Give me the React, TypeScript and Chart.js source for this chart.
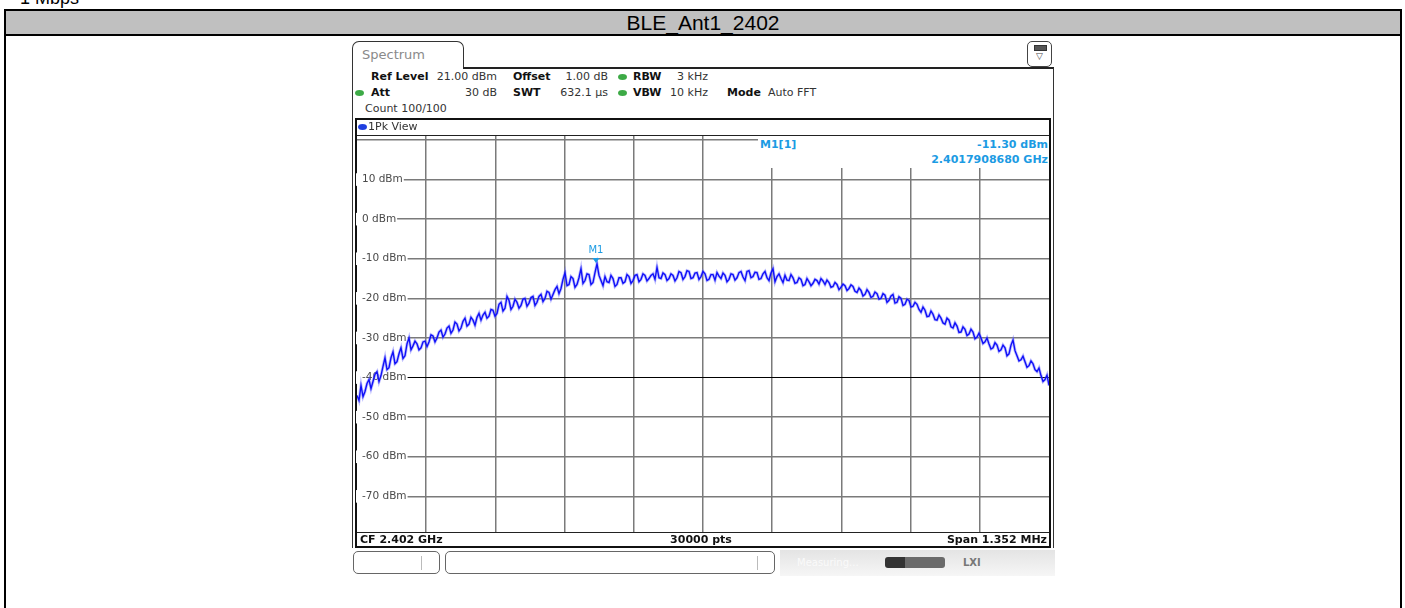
import React, { useEffect, useRef } from "react";
import { Chart, registerables } from "chart.js";
Chart.register(...registerables);

// ---- data ----
const CENTER_GHZ = 2.402;
const SPAN_GHZ = 0.001352;
const REF_LEVEL_DBM = 21;
const BOTTOM_LEVEL_DBM = -79;
const Y_TICKS = [-70, -60, -50, -40, -30, -20, -10, 0, 10, 20];
const X_DIVISIONS = [1, 2, 3, 4, 5, 6, 7, 8, 9];
const TRACE_DBM = [
  -44.5, -45.8, -42.0, -44.8, -43.5, -41.5, -40.5, -42.8, -41.0, -39.2, -38.5, -41.0, -39.5, -37.2, -35.0, -38.0, -37.5, -35.0, -33.5, -36.5,
  -36.0, -34.0, -32.5, -35.2, -34.5, -31.5, -30.0, -33.0, -32.0, -30.8, -31.5, -33.0, -32.5, -31.0, -30.8, -32.2, -31.0, -29.2, -29.5, -31.0,
  -30.0, -28.5, -28.0, -29.8, -29.0, -27.5, -27.0, -28.8, -28.0, -26.0, -26.5, -28.2, -27.5, -25.8, -25.0, -27.0, -26.5, -24.8, -25.5, -26.8,
  -24.8, -23.8, -25.5, -24.2, -23.5, -25.0, -24.5, -22.8, -23.0, -24.5, -23.8, -21.5, -21.0, -23.2, -22.5, -19.5, -20.5, -22.8, -22.0, -20.2,
  -21.0, -22.5, -21.8, -20.2, -20.0, -22.0, -21.2, -19.8, -19.5, -21.8, -21.0, -19.5, -19.0, -20.8, -20.0, -18.2, -18.5, -20.2, -19.0, -17.8,
  -17.0, -18.8, -17.5, -15.2, -13.5, -16.8, -16.5, -14.5, -15.0, -17.2, -16.5, -14.8, -12.5, -16.2, -15.5, -13.8, -14.0, -16.5, -16.0, -13.5,
  -11.3, -14.2, -15.5, -16.8, -14.5, -15.8, -16.0, -14.2, -15.0, -17.0, -16.5, -14.8, -14.8, -16.2, -15.8, -14.0, -14.5, -16.2, -15.5, -14.2,
  -14.0, -15.8, -15.2, -13.8, -14.2, -15.6, -15.0, -14.2, -13.8, -15.2, -12.2, -14.8, -15.0, -13.6, -14.0, -15.5, -15.0, -13.8, -14.2, -15.6,
  -14.8, -13.2, -13.5, -15.2, -14.5, -13.0, -13.2, -15.0, -14.8, -13.6, -13.5, -15.2, -14.5, -13.2, -13.8, -15.5, -15.2, -14.0, -14.0, -15.4,
  -13.5, -14.4, -15.0, -13.6, -14.2, -15.8, -15.2, -13.8, -14.0, -15.4, -14.8, -13.5, -13.2, -14.6, -15.5, -13.2, -13.0, -14.8, -14.5, -13.4,
  -13.5, -15.2, -15.0, -13.8, -13.2, -14.8, -15.5, -13.6, -12.5, -15.8, -14.5, -13.8, -15.0, -16.0, -14.2, -15.4, -15.5, -14.0, -14.8, -16.2,
  -16.0, -14.8, -15.2, -16.8, -16.5, -15.0, -15.8, -16.8, -16.2, -15.2, -15.5, -16.4, -15.0, -15.6, -16.5, -15.4, -16.0, -17.2, -17.0, -16.0,
  -16.5, -17.8, -17.2, -16.4, -16.8, -18.0, -17.5, -16.6, -17.0, -18.2, -18.5, -17.4, -18.0, -19.4, -19.0, -17.8, -18.5, -19.8, -19.5, -18.4,
  -18.8, -20.2, -20.0, -18.8, -19.2, -21.0, -20.5, -19.4, -19.0, -21.2, -21.0, -19.6, -20.0, -21.8, -21.5, -20.2, -20.5, -22.2, -22.0, -21.0,
  -21.5, -22.8, -23.5, -22.2, -23.0, -24.6, -24.5, -23.2, -24.0, -25.4, -25.5, -24.2, -25.0, -26.2, -26.5, -25.0, -25.5, -27.2, -27.5, -26.2,
  -27.0, -28.6, -28.5, -27.2, -27.8, -29.4, -29.0, -27.8, -28.5, -30.2, -29.8, -28.8, -30.0, -31.4, -31.0, -30.0, -31.5, -32.8, -32.5, -31.2,
  -31.8, -33.4, -33.0, -31.8, -32.5, -34.5, -34.0, -31.8, -30.5, -33.2, -34.5, -35.8, -35.5, -34.6, -36.0, -37.4, -37.0, -35.8, -36.5, -38.0,
  -38.5, -37.6, -39.5, -41.0, -40.5, -39.4, -42.0,
];
const MARKER_FREQ_GHZ = 2.401790868;
const MARKER_LEVEL_DBM = -11.3;

const START_GHZ = CENTER_GHZ - SPAN_GHZ / 2;
const STOP_GHZ = CENTER_GHZ + SPAN_GHZ / 2;

const FONT = "'DejaVu Sans', sans-serif";
const BLUE_TXT = "#1c9be3";

const markerPlugin = {
  id: "m1marker",
  afterDatasetsDraw(chart: any) {
    const { ctx, scales } = chart;
    const px = scales.x.getPixelForValue(MARKER_FREQ_GHZ);
    const py = scales.y.getPixelForValue(MARKER_LEVEL_DBM);
    ctx.save();
    ctx.fillStyle = BLUE_TXT;
    ctx.beginPath();
    ctx.moveTo(px - 3.5, py - 6);
    ctx.lineTo(px + 3.5, py - 6);
    ctx.lineTo(px, py - 1);
    ctx.closePath();
    ctx.fill();
    ctx.font = `10px ${FONT}`;
    ctx.textAlign = "center";
    ctx.textBaseline = "bottom";
    ctx.fillText("M1", px, py - 9);
    ctx.restore();
  },
};

function T(props: {
  x: number;
  cy: number;
  children: any;
  bold?: boolean;
  align?: "left" | "right" | "center";
  color?: string;
  size?: number;
}) {
  const { x, cy, children, bold, align = "left", color = "#333", size = 11 } = props;
  const style: any = {
    position: "absolute",
    top: cy - 7,
    lineHeight: "14px",
    fontSize: size,
    fontFamily: FONT,
    fontWeight: bold ? "bold" : "normal",
    color,
    whiteSpace: "nowrap",
  };
  if (align === "left") style.left = x;
  else if (align === "right") style.right = 1405 - x;
  else {
    style.left = x - 200;
    style.width = 400;
    style.textAlign = "center";
  }
  return <div style={style}>{children}</div>;
}

function Dot({ x, y, color }: { x: number; y: number; color: string }) {
  return (
    <div
      style={{
        position: "absolute",
        left: x - 4,
        top: y - 3,
        width: 9,
        height: 6,
        borderRadius: "50%",
        background: color,
      }}
    />
  );
}

function Box(props: { l: number; t: number; w: number; h: number; s?: any }) {
  return (
    <div
      style={{
        position: "absolute",
        left: props.l,
        top: props.t,
        width: props.w,
        height: props.h,
        ...(props.s || {}),
      }}
    />
  );
}

export default function App() {
  const ref = useRef<HTMLCanvasElement | null>(null);

  useEffect(() => {
    if (!ref.current) return;
    const n = TRACE_DBM.length;
    const points = TRACE_DBM.map((v, i) => ({
      x: START_GHZ + (i * SPAN_GHZ) / (n - 1),
      y: v,
    }));
    const chart = new Chart(ref.current, {
      type: "line",
      data: {
        datasets: [
          {
            data: points,
            borderColor: "#1010f8",
            borderWidth: 1.4,
            pointRadius: 0,
            tension: 0,
            order: 1,
          },
          {
            data: points,
            borderColor: "rgba(110,110,255,0.45)",
            borderWidth: 3,
            pointRadius: 0,
            tension: 0,
            order: 2,
          },
        ],
      },
      options: {
        animation: false,
        responsive: false,
        parsing: false as any,
        layout: { padding: 12 },
        plugins: { legend: { display: false }, tooltip: { enabled: false } },
        scales: {
          x: {
            type: "linear",
            min: START_GHZ,
            max: STOP_GHZ,
            afterBuildTicks: (axis: any) => {
              axis.ticks = X_DIVISIONS.map((k) => ({
                value: START_GHZ + (k * SPAN_GHZ) / 10,
              }));
            },
            ticks: { display: false },
            grid: { color: "#7a7a7a", lineWidth: 1.5, drawTicks: false },
            border: { display: false },
          },
          y: {
            type: "linear",
            min: BOTTOM_LEVEL_DBM,
            max: REF_LEVEL_DBM,
            afterBuildTicks: (axis: any) => {
              axis.ticks = Y_TICKS.map((v) => ({ value: v }));
            },
            afterFit: (axis: any) => {
              axis.width = 0;
            },
            ticks: {
              mirror: true,
              padding: 5,
              color: "#4a4a4a",
              font: { family: "DejaVu Sans", size: 10.5 },
              callback: (v: any) => (v === 20 ? "" : `${v} dBm`),
              showLabelBackdrop: (c: any) => !(c.tick && c.tick.value === 20),
              backdropColor: "#ffffff",
              backdropPadding: { top: 0, bottom: 0, left: 6, right: 1 },
            } as any,
            grid: {
              color: (c: any) => (c.tick && c.tick.value === -40 ? "#000000" : "#7a7a7a"),
              lineWidth: (c: any) => (c.tick && c.tick.value === -40 ? 1 : 1.5),
              drawTicks: false,
            },
            border: { display: false },
          },
        },
      },
      plugins: [markerPlugin],
    } as any);
    return () => chart.destroy();
  }, []);

  return (
    <div
      style={{
        position: "absolute",
        left: 0,
        top: 0,
        width: 1405,
        height: 608,
        overflow: "hidden",
        background: "#fff",
      }}
    >
      {/* cut-off caption */}
      <div
        style={{
          position: "absolute",
          left: 20,
          top: -12,
          fontFamily: "Arial, 'Liberation Sans', sans-serif",
          fontSize: 18,
          lineHeight: "20px",
          whiteSpace: "nowrap",
        }}
      >
        1 Mbps
      </div>
      {/* table frame */}
      <Box l={4} t={9} w={1398} h={640} s={{ border: "2px solid #000", boxSizing: "border-box" }} />
      <Box l={6} t={11} w={1394} h={23} s={{ background: "#c0c0c0" }} />
      <Box l={6} t={34} w={1394} h={2} s={{ background: "#000" }} />
      <div
        style={{
          position: "absolute",
          left: 6,
          top: 11,
          width: 1394,
          height: 23,
          lineHeight: "24px",
          textAlign: "center",
          fontFamily: "Arial, 'Liberation Sans', sans-serif",
          fontSize: 21,
          color: "#000",
        }}
      >
        BLE_Ant1_2402
      </div>

      {/* instrument screen */}
      <Box
        l={352}
        t={41}
        w={112}
        h={28}
        s={{
          border: "1px solid #333",
          borderBottom: "none",
          borderRadius: "7px 7px 0 0",
          boxSizing: "border-box",
        }}
      />
      <div
        style={{
          position: "absolute",
          left: 362,
          top: 46,
          fontFamily: FONT,
          fontSize: 13,
          color: "#8a8a8a",
          lineHeight: "18px",
        }}
      >
        Spectrum
      </div>
      <Box l={463} t={67} w={591} h={2} s={{ background: "#222" }} />
      <Box l={352} t={68} w={1} h={480} s={{ background: "#333" }} />
      <Box l={1053} t={68} w={1} h={480} s={{ background: "#333" }} />
      {/* settings icon */}
      <Box
        l={1027}
        t={41}
        w={25}
        h={26}
        s={{ border: "1px solid #444", borderRadius: 5, boxSizing: "border-box", background: "#fff" }}
      />
      <Box l={1034} t={45} w={11} h={4} s={{ background: "#555", border: "1px solid #333" }} />
      <div
        style={{
          position: "absolute",
          left: 1027,
          top: 50,
          width: 25,
          textAlign: "center",
          fontSize: 9,
          lineHeight: "12px",
          fontFamily: FONT,
          color: "#444",
        }}
      >
        ▽
      </div>

      {/* settings text */}
      <T x={371} cy={77} bold color="#111">Ref Level</T>
      <T x={497} cy={77} align="right">21.00 dBm</T>
      <T x={513} cy={77} bold color="#111">Offset</T>
      <T x={608} cy={77} align="right">1.00 dB</T>
      <Dot x={622} y={77} color="#3daa46" />
      <T x={633} cy={77} bold color="#111">RBW</T>
      <T x={708} cy={77} align="right">3 kHz</T>

      <Dot x={359} y={93} color="#3daa46" />
      <T x={371} cy={93} bold color="#111">Att</T>
      <T x={497} cy={93} align="right">30 dB</T>
      <T x={513} cy={93} bold color="#111">SWT</T>
      <T x={608} cy={93} align="right">632.1 µs</T>
      <Dot x={622} y={93} color="#3daa46" />
      <T x={633} cy={93} bold color="#111">VBW</T>
      <T x={708} cy={93} align="right">10 kHz</T>
      <T x={727} cy={93} bold color="#111">Mode</T>
      <T x={768} cy={93}>Auto FFT</T>

      <T x={365} cy={109}>Count 100/100</T>

      {/* view box */}
      <Box
        l={355}
        t={118}
        w={696}
        h={430}
        s={{ border: "2px solid #111", boxSizing: "border-box", background: "#fff" }}
      />
      <canvas
        ref={ref}
        width={716}
        height={420}
        style={{ position: "absolute", left: 345, top: 124, width: 716, height: 420 }}
      />
      <Dot x={362} y={127} color="#1f3fe0" />
      <T x={368} cy={127}>1Pk View</T>
      <Box l={357} t={135} w={692} h={1} s={{ background: "#222" }} />
      <Box l={357} t={532} w={692} h={1} s={{ background: "#222" }} />

      {/* marker info */}
      <Box l={758} t={136} w={291} h={32} s={{ background: "#fff" }} />
      <T x={760} cy={145} bold color={BLUE_TXT}>M1[1]</T>
      <T x={1048} cy={145} bold align="right" color={BLUE_TXT}>-11.30 dBm</T>
      <T x={1048} cy={160} bold align="right" color={BLUE_TXT}>2.4017908680 GHz</T>

      {/* footer */}
      <T x={360} cy={540} bold color="#111">CF 2.402 GHz</T>
      <T x={701} cy={540} bold align="center" color="#111">30000 pts</T>
      <T x={1047} cy={540} bold align="right" color="#111">Span 1.352 MHz</T>

      {/* status bar */}
      <Box
        l={353}
        t={551}
        w={87}
        h={23}
        s={{ border: "1px solid #666", borderRadius: 5, boxSizing: "border-box" }}
      />
      <Box l={421} t={556} w={1} h={14} s={{ background: "#bbb" }} />
      <Box
        l={445}
        t={551}
        w={330}
        h={23}
        s={{ border: "1px solid #666", borderRadius: 5, boxSizing: "border-box" }}
      />
      <Box l={757} t={556} w={1} h={14} s={{ background: "#bbb" }} />
      <Box
        l={780}
        t={550}
        w={275}
        h={26}
        s={{ background: "linear-gradient(to bottom, #e4e4e4, #f6f6f6)" }}
      />
      <T x={797} cy={563} color="#fafafa" size={10}>Measuring...</T>
      <Box l={885} t={557} w={20} h={11} s={{ background: "#333", borderRadius: "3px 0 0 3px" }} />
      <Box l={905} t={557} w={40} h={11} s={{ background: "#6a6a6a", borderRadius: "0 3px 3px 0" }} />
      <T x={963} cy={563} bold color="#777" size={10}>LXI</T>
    </div>
  );
}
